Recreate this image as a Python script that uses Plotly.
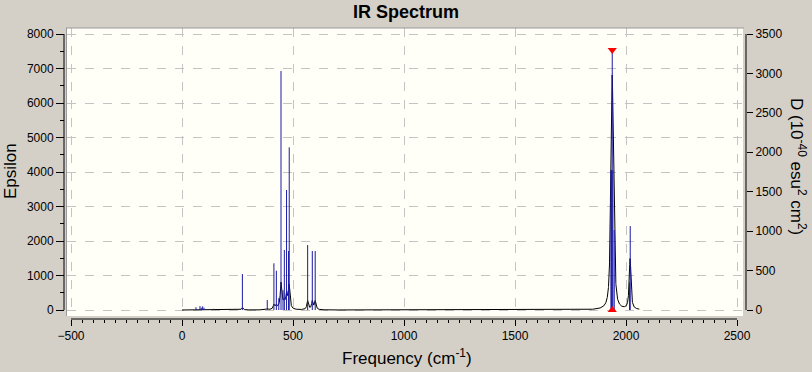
import numpy as np
import plotly.graph_objects as go

# ---- data ----
stick_freq = [63, 81, 87, 93, 99, 141, 272, 384, 414, 425, 436, 446, 455, 461, 471, 480, 483,
              566, 587, 600, 1932, 1935, 1938, 1941, 1947, 2016, 2019]
stick_D = [35, 50, 30, 45, 30, 15, 456, 127, 592, 498, 150, 3030, 250, 761, 1522, 748, 2063,
           824, 748, 748, 1775, 1775, 3297, 1775, 1014, 350, 1065]
eps_peak = 6810          # height of the broadened curve at its maximum (Epsilon)
hwhm = 4.0               # half-width at half-height of the broadening (cm-1)
freq_start, freq_end = 0, 2060

x_tick_vals = [-500, 0, 500, 1000, 1500, 2000, 2500]
y_tick_vals = [0, 1000, 2000, 3000, 4000, 5000, 6000, 7000, 8000]
y2_tick_vals = [0, 500, 1000, 1500, 2000, 2500, 3000, 3500]

# ---- broadened spectrum built from the sticks ----
nu = np.arange(freq_start, freq_end + 0.25, 0.25)
f = np.array(stick_freq, float)
d = np.array(stick_D, float)
curve = ((f * d)[None, :] / (1 + ((nu[:, None] - f[None, :]) / hwhm) ** 2)).sum(axis=1)
eps = curve / curve.max() * eps_peak

sx, sy = [], []
for fr, dv in zip(stick_freq, stick_D):
    sx += [fr, fr, None]
    sy += [0, dv, None]

imax = int(np.argmax(stick_D))

# ---- layout geometry (pixels) ----
W, H = 812, 372
ml, mr, mt, mb = 60, 60, 28, 50
pw, ph = W - ml - mr, H - mt - mb
def px(xp):
    return (xp - ml) / pw
def py(yp):
    return (H - mb - yp) / ph

fig = go.Figure()
fig.add_trace(go.Scatter(x=nu, y=eps, mode="lines", line=dict(color="black", width=1),
                         hoverinfo="skip", showlegend=False))
fig.add_trace(go.Scatter(x=sx, y=sy, mode="lines", line=dict(color="#1a1aa6", width=1),
                         yaxis="y2", showlegend=False))
fig.add_trace(go.Scatter(x=[stick_freq[imax]], y=[stick_D[imax]], mode="markers",
                         marker=dict(symbol="triangle-down", size=8, color="#ff0000"),
                         yaxis="y2", showlegend=False, cliponaxis=False))
fig.add_trace(go.Scatter(x=[stick_freq[imax]], y=[0], mode="markers",
                         marker=dict(symbol="triangle-up", size=8, color="#ff0000"),
                         yaxis="y2", showlegend=False, cliponaxis=False))

tickfont = dict(family="Liberation Sans", size=12, color="black")
xr = [-518, 2527]
yr = [-174, 8174]
y2r = [yr[0] * 3500 / 8000, yr[1] * 3500 / 8000]

def ann(text, x, y, size, angle=0):
    return dict(text=text, xref="paper", yref="paper", x=px(x), y=py(y), textangle=angle,
                xanchor="center", yanchor="middle", showarrow=False,
                font=dict(family="Liberation Sans", size=size, color="black"))

fig.update_layout(
    width=W, height=H,
    margin=dict(l=ml, r=mr, t=mt, b=mb, pad=0),
    paper_bgcolor="#d4d0c8",
    plot_bgcolor="#fffff7",
    showlegend=False,
    xaxis=dict(domain=[px(67), px(743)], range=xr, anchor="free", position=py(319),
               tickvals=x_tick_vals, ticks="outside", ticklen=6, tickcolor="black",
               showline=False, zeroline=False,
               showgrid=True, gridcolor="#c4c4c4", griddash="dash", gridwidth=1,
               minor=dict(dtick=50, tick0=-500, ticks="outside", ticklen=3, tickcolor="black", showgrid=False),
               tickfont=tickfont),
    yaxis=dict(domain=[py(316), py(28)], range=yr, anchor="free", position=px(64),
               tickvals=y_tick_vals, ticks="outside", ticklen=8, tickcolor="black",
               showline=False, zeroline=False,
               showgrid=True, gridcolor="#c4c4c4", griddash="dash", gridwidth=1,
               minor=dict(dtick=500, tick0=0, ticks="outside", ticklen=4, tickcolor="black", showgrid=False),
               tickfont=tickfont),
    yaxis2=dict(range=y2r, overlaying="y", side="right", anchor="free", position=px(746),
                tickvals=y2_tick_vals, ticks="outside", ticklen=6, tickcolor="black",
                showline=False, zeroline=False, showgrid=False, tickfont=tickfont),
    shapes=[
        # axis lines spanning the labelled ranges
        dict(type="line", xref="x", yref="paper", x0=-500, x1=2500, y0=py(319), y1=py(319),
             line=dict(color="black", width=1)),
        dict(type="line", xref="paper", yref="y", x0=px(64), x1=px(64), y0=0, y1=8000,
             line=dict(color="black", width=1)),
        dict(type="line", xref="paper", yref="y", x0=px(746), x1=px(746), y0=0, y1=8000,
             line=dict(color="black", width=1)),
        # sunken frame of the plot area
        dict(type="line", xref="paper", yref="paper", x0=px(66), x1=px(744), y0=py(28), y1=py(28),
             line=dict(color="#9a9a9a", width=1)),
        dict(type="line", xref="paper", yref="paper", x0=px(66.5), x1=px(66.5), y0=py(316), y1=py(28),
             line=dict(color="#9a9a9a", width=1)),
    ],
    annotations=[
        ann("<b>IR Spectrum</b>", 406, 12, 18),
        ann("Frequency (cm<sup>-1</sup>)", 407, 357, 17),
        ann("Epsilon", 10, 171, 17, -90),
        ann("D (10<sup>-40</sup> esu<sup>2</sup> cm<sup>2</sup>)", 798, 166, 17, 90),
    ],
)

fig.write_html("out.html", config={"displayModeBar": False},
               post_script="document.body.style.margin='0';document.body.style.padding='0';")
